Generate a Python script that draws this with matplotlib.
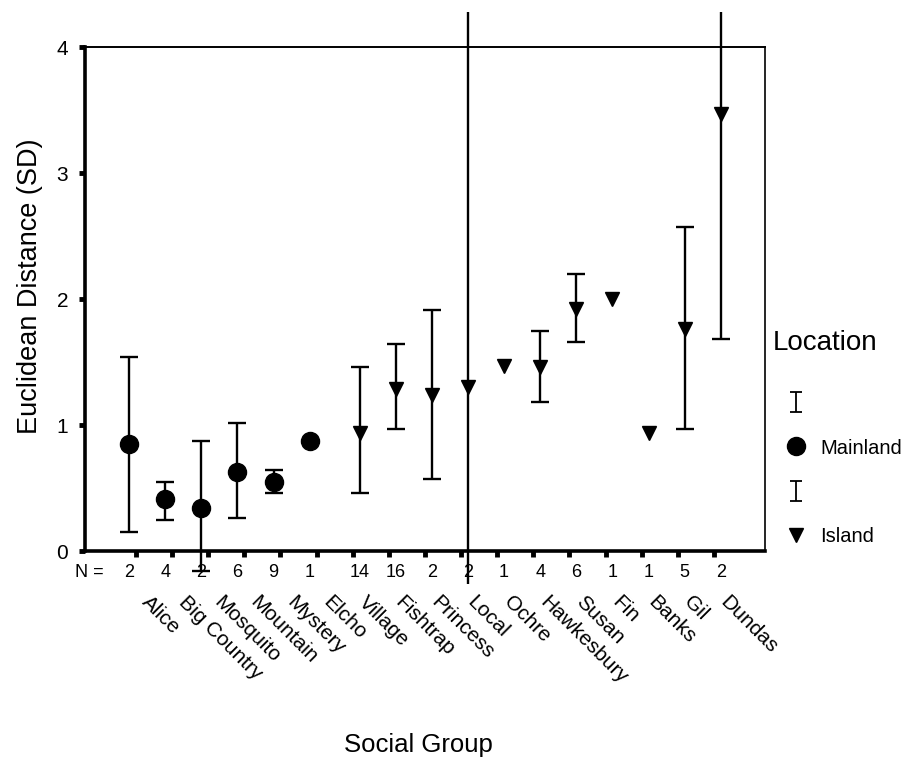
import matplotlib
matplotlib.use("Agg")

import matplotlib.pyplot as plt
from matplotlib.lines import Line2D
from matplotlib.path import Path
from matplotlib.patches import Rectangle


plt.rcParams["font.family"] = ["Liberation Sans", "DejaVu Sans"]


# -------------------------------------------------
# Data
# -------------------------------------------------

groups = [
    "Alice", "Big Country", "Mosquito", "Mountain", "Mystery", "Elcho",
    "Village", "Fishtrap", "Princess", "Local", "Ochre", "Hawkesbury",
    "Susan", "Fin", "Banks", "Gil", "Dundas"
]

location = [
    "Mainland", "Mainland", "Mainland", "Mainland", "Mainland", "Mainland",
    "Island", "Island", "Island", "Island", "Island", "Island",
    "Island", "Island", "Island", "Island", "Island"
]

n_counts = [2, 4, 2, 6, 9, 1, 14, 16, 2, 2, 1, 4, 6, 1, 1, 5, 2]

mean_dist = [0.85, 0.41, 0.34, 0.63, 0.55, 0.87, 0.94, 1.29, 1.24, 1.30,
             1.47, 1.46, 1.92, 2.00, 0.94, 1.76, 3.47]

# None = no error bar (single case)
err_low = [0.15, 0.25, -0.16, 0.26, 0.46, None, 0.46, 0.97, 0.57, -0.40,
           None, 1.18, 1.66, None, None, 0.97, 1.68]

err_high = [1.54, 0.55, 0.87, 1.02, 0.64, None, 1.46, 1.64, 1.91, 4.40,
            None, 1.75, 2.20, None, None, 2.57, 4.40]

y_ticks = [0, 1, 2, 3, 4]

markers = {"Mainland": "o", "Island": "v"}
marker_sizes = {"Mainland": 13, "Island": 10}
offsets = {"Mainland": -0.19, "Island": 0.19}


# -------------------------------------------------
# Figure
# -------------------------------------------------

fig = plt.figure(figsize=(9.09, 7.59), dpi=100)

ax = fig.add_axes([0.0935, 0.274, 0.748, 0.664])

ax.set_xlim(-1.41, len(groups) - 1 + 1.41)
ax.set_ylim(0, 4)

# error bars are drawn past the frame, clipped to a taller box
clip_box = Rectangle(
    (0, -0.066), 1, 1.135,
    transform=ax.transAxes,
    facecolor="none",
    edgecolor="none"
)
ax.add_patch(clip_box)

for i, grp in enumerate(groups):

    loc = location[i]
    x = i + offsets[loc]

    if err_low[i] is not None:

        container = ax.errorbar(
            [x],
            [mean_dist[i]],
            yerr=[[mean_dist[i] - err_low[i]], [err_high[i] - mean_dist[i]]],
            fmt="none",
            ecolor="black",
            elinewidth=1.7,
            capsize=6.5,
            capthick=1.7,
            zorder=3
        )

        for artist in container.get_children():
            artist.set_clip_on(True)
            artist.set_clip_path(clip_box)

    ax.plot(
        [x],
        [mean_dist[i]],
        marker=markers[loc],
        markersize=marker_sizes[loc],
        color="black",
        linestyle="none",
        zorder=4
    )

    # N labels under the axis
    ax.text(
        x,
        -0.043,
        str(n_counts[i]),
        transform=ax.get_xaxis_transform(),
        ha="center",
        va="center",
        fontsize=13
    )

    # rotated group names
    ax.text(
        i + 0.44,
        -0.083,
        grp,
        transform=ax.get_xaxis_transform(),
        ha="left",
        va="top",
        rotation=-45,
        rotation_mode="anchor",
        fontsize=15
    )

ax.text(
    -1.69,
    -0.043,
    "N =",
    transform=ax.get_xaxis_transform(),
    ha="left",
    va="center",
    fontsize=13
)


# -------------------------------------------------
# Axes styling
# -------------------------------------------------

ax.set_xticks(range(len(groups)))
ax.set_xticklabels([])

ax.set_yticks(y_ticks)
ax.set_yticklabels([str(v) for v in y_ticks], fontsize=15)

ax.tick_params(axis="both", direction="out", length=4, width=3.5, color="black")
ax.tick_params(axis="y", pad=8)

ax.spines["left"].set_linewidth(2.6)
ax.spines["bottom"].set_linewidth(2.6)
ax.spines["top"].set_linewidth(1.4)
ax.spines["right"].set_linewidth(1.2)

ax.set_ylabel("Euclidean Distance (SD)", fontsize=19.5)
ax.yaxis.set_label_coords(-0.062, 0.525)

fig.text(0.46, 0.018, "Social Group", ha="center", va="center", fontsize=18.5)


# -------------------------------------------------
# Legend
# -------------------------------------------------

bar_path = Path(
    [(-0.65, 1), (0.65, 1), (0, 1), (0, -1), (-0.65, -1), (0.65, -1)],
    [Path.MOVETO, Path.LINETO, Path.MOVETO, Path.LINETO,
     Path.MOVETO, Path.LINETO]
)

legend_handles = []
legend_labels = []

for loc in ["Mainland", "Island"]:

    legend_handles.append(
        Line2D([], [], marker=bar_path, markersize=14, color="black",
               markerfacecolor="none", markeredgewidth=1.3, linestyle="none")
    )
    legend_labels.append(" ")

    legend_handles.append(
        Line2D([], [], marker=markers[loc], markersize=marker_sizes[loc],
               color="black", linestyle="none")
    )
    legend_labels.append(loc)

fig.text(773 / 909, 1 - 343 / 759, "Location", ha="left", va="center",
         fontsize=20)

legend = ax.legend(
    legend_handles,
    legend_labels,
    loc="upper left",
    bbox_to_anchor=(0.849, 0.499),
    bbox_transform=fig.transFigure,
    frameon=False,
    fontsize=14.5,
    labelspacing=1.25,
    handlelength=1.0,
    handletextpad=0.7,
    borderpad=0.2
)

fig.savefig("out.png", dpi=100)
